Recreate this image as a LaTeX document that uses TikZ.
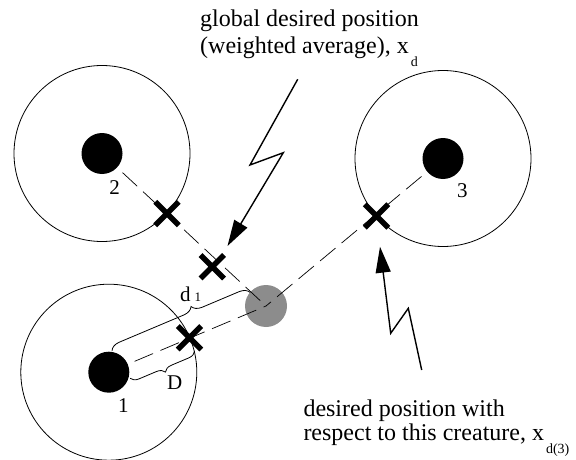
\documentclass[tikz,border=0pt]{standalone}
\usepackage{fontspec}
\setmainfont{Liberation Serif}
\usetikzlibrary{arrows.meta,decorations.pathreplacing,shapes.misc}
\begin{document}
\begin{tikzpicture}[x=1pt,y=-1pt,
  ring/.style={draw,circle,minimum size=176pt,inner sep=0pt,line width=0.8pt},
  body/.style={circle,fill=black,minimum size=41pt,inner sep=0pt},
  target/.style={circle,fill=black!45,minimum size=42pt,inner sep=0pt},
  dashline/.style={line width=0.7pt,dash pattern=on 20pt off 8pt},
  xmark/.style={cross out,draw,line width=5.5pt,minimum size=18pt,inner sep=0pt},
  bolt/.style={line width=1.4pt,-{Triangle[length=26pt,width=15pt]}},
  bracestyle/.style={line width=0.8pt,decorate},
  lbl/.style={font=\fontsize{21}{21}\selectfont,inner sep=0pt,anchor=base},
  txt/.style={font=\fontsize{24}{24}\selectfont,inner sep=0pt,anchor=base west}
]
\useasboundingbox (0,0) rectangle (576,460);
% centres
\coordinate (c1) at (108.8,372.2);
\coordinate (c2) at (102,153.5);
\coordinate (c3) at (443,158.5);
\coordinate (cg) at (266,306);
% outer rings
\node[ring] (r1) at (c1) {};
\node[ring] (r2) at (c2) {};
\node[ring] (r3) at (c3) {};
% target
\node[target] (g) at (cg) {};
% dashed lines
\draw[dashline] (c1) -- (cg);
\draw[dashline] (c2) -- (cg);
\draw[dashline] (c3) -- (cg);
% bodies
\node[body] (p1) at (c1) {};
\node[body] (p2) at (c2) {};
\node[body] (p3) at (c3) {};
% crosses
\node[xmark] (x1) at (189.5,337.8) {};
\node[xmark] (x2) at (167,213.6) {};
\node[xmark] (x3) at (376.5,216) {};
\node[xmark] (xd) at (212.3,266.7) {};
% braces
\coordinate (b1s) at (112,350.7);
\coordinate (b1e) at (250.2,292.4);
\coordinate (b2s) at (130.1,378.3);
\coordinate (b2e) at (194.6,351.1);
\draw[bracestyle,decoration={brace,amplitude=10pt,aspect=0.6}] (b1s) -- (b1e);
\draw[bracestyle,decoration={brace,amplitude=8pt,aspect=0.5,mirror}] (b2s) -- (b2e);
% lightning arrows
\coordinate (a1s) at (297.7,79.3);
\coordinate (a1k1) at (250,165);
\coordinate (a1k2) at (283.3,152.7);
\coordinate (a1t) at (227.5,246);
\draw[bolt] (a1s) -- (a1k1) -- (a1k2) -- (a1t);
\coordinate (a2s) at (421.7,370);
\coordinate (a2k1) at (408.3,308.3);
\coordinate (a2k2) at (390.7,333.3);
\coordinate (a2t) at (380,246.7);
\draw[bolt] (a2s) -- (a2k1) -- (a2k2) -- (a2t);
% labels
\node[lbl] (l1) at (123.3,412.7) {1};
\node[lbl] (l2) at (114.7,194) {2};
\node[lbl] (l3) at (462.3,197.3) {3};
\node[lbl] (lD) at (174.7,389) {D};
\node[lbl,anchor=base west] (ld) at (180,301.7) {d\hspace{4pt}{\fontsize{13}{13}\selectfont 1}};
% texts
\node[txt] (t1) at (200,26.7) {global desired position};
\node[txt] (t2) at (200,53.3) {(weighted average), x\hspace{2pt}\raisebox{-13pt}{\fontsize{14}{14}\selectfont d}};
\node[txt] (t3) at (303.3,416.7) {desired position with};
\node[txt] (t4) at (303.3,440) {respect to this creature, x\hspace{2pt}\raisebox{-13pt}{\fontsize{14}{14}\selectfont d(3)}};
\end{tikzpicture}
\end{document}
